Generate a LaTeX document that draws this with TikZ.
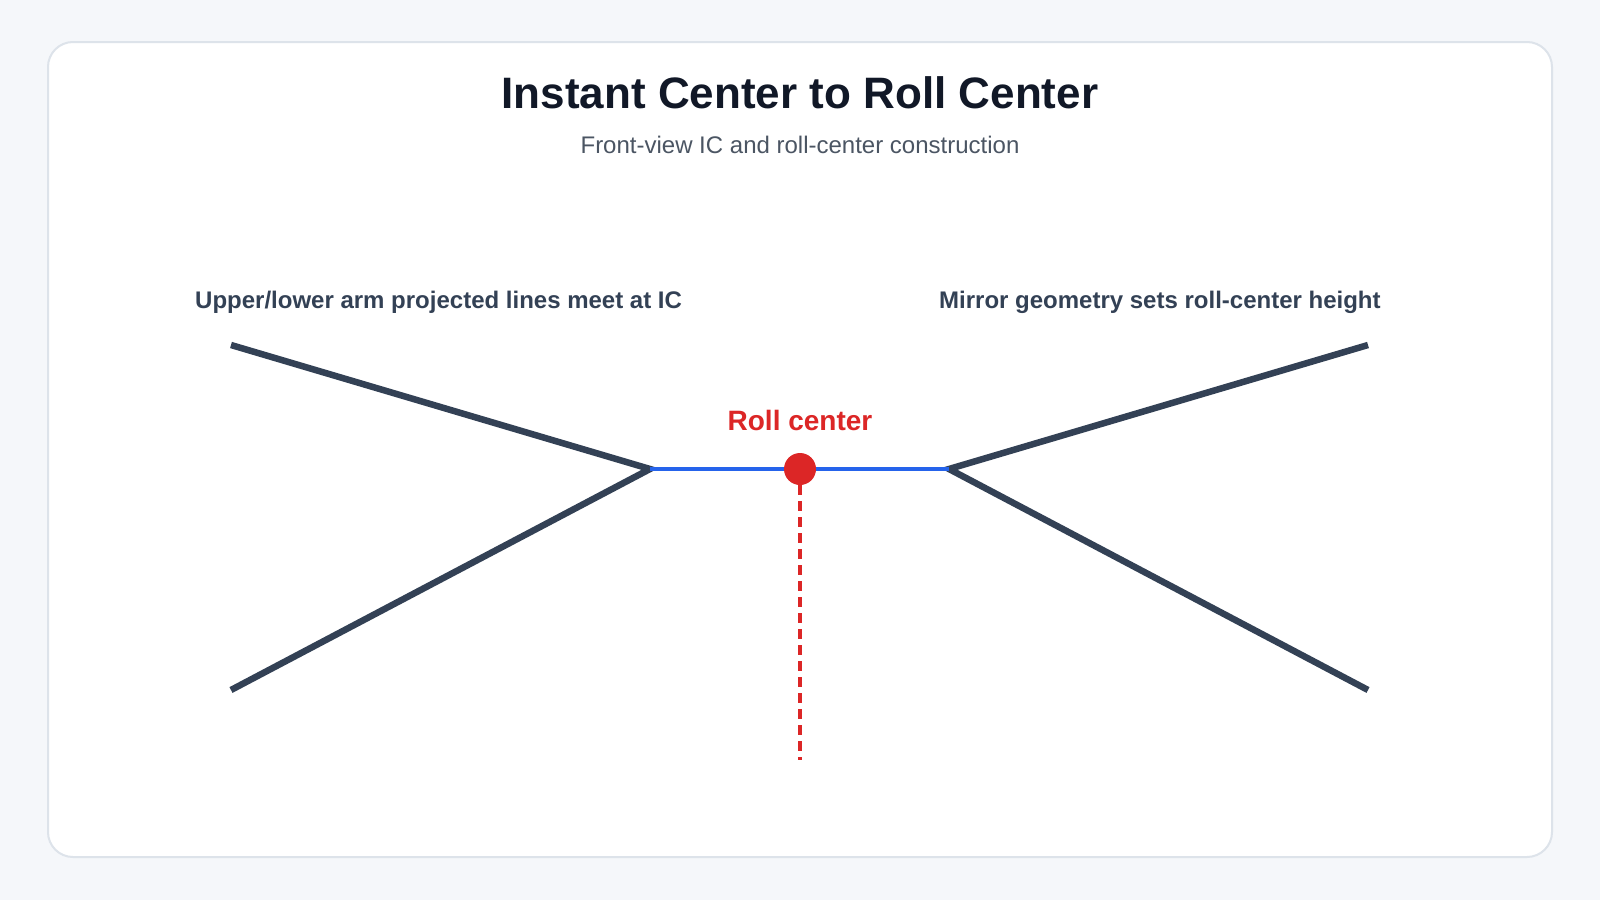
\documentclass[tikz,border=0pt]{standalone}
\usepackage{fontspec}
\setmainfont{Liberation Sans}
\definecolor{bg}{HTML}{F5F7FA}
\definecolor{cardline}{HTML}{DDE3EA}
\definecolor{dark}{HTML}{334155}
\definecolor{titlec}{HTML}{111827}
\definecolor{subc}{HTML}{4B5563}
\definecolor{bluec}{HTML}{2563EB}
\definecolor{redc}{HTML}{DC2626}
\begin{document}
\begin{tikzpicture}[x=1pt,y=-1pt,
  arm/.style={draw=dark,line width=6.5pt},
  lbl/.style={font=\fontsize{24}{28}\selectfont\bfseries,text=dark,anchor=west,inner sep=0}]
\useasboundingbox (0,0) rectangle (1600,900);
\fill[bg] (0,0) rectangle (1600,900);
\draw[cardline,fill=white,line width=2pt,rounded corners=25pt] (48,42) rectangle (1552,857);
\node[font=\fontsize{44}{50}\selectfont\bfseries,text=titlec] (title) at (800,93) {Instant Center to Roll Center};
\node[font=\fontsize{24}{28}\selectfont,text=subc] (sub) at (800,145) {Front-view IC and roll-center construction};
\node[lbl] (ll) at (195,302) {Upper/lower arm projected lines meet at IC};
\node[lbl] (rl) at (939,302) {Mirror geometry sets roll-center height};
\coordinate (lu) at (231,345); \coordinate (ld) at (231,690);
\coordinate (ru) at (1368,345); \coordinate (rd) at (1368,690);
\coordinate (icl) at (650,469); \coordinate (icr) at (949,469);
\coordinate (bot) at (800,760);
\draw[arm] (lu) -- (icl) -- (ld);
\draw[arm] (ru) -- (icr) -- (rd);
\draw[bluec,line width=4pt] (icl) -- (icr);
\draw[redc,line width=4pt,dash pattern=on 10pt off 6pt] (800,469) -- (bot);
\node[circle,fill=redc,minimum size=32pt,inner sep=0] (rc) at (800,469) {};
\node[font=\fontsize{28}{32}\selectfont\bfseries,text=redc] (rct) at (800,420) {Roll center};
\end{tikzpicture}
\end{document}
